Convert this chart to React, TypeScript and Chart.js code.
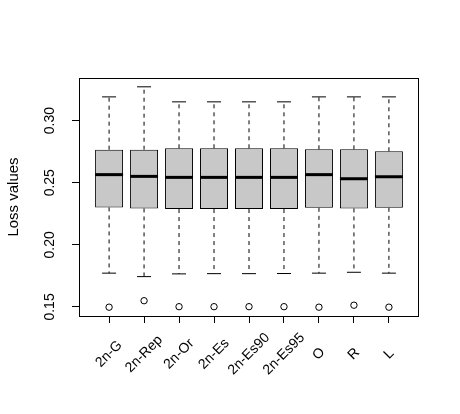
import React, { useEffect, useRef } from "react";
import { Chart, registerables } from "chart.js";

Chart.register(...registerables);

const categories = ["2n-G", "2n-Rep", "2n-Or", "2n-Es", "2n-Es90", "2n-Es95", "O", "R", "L"];
const lowerWhisker = [0.1772, 0.1744, 0.1766, 0.1768, 0.1768, 0.1769, 0.1772, 0.1779, 0.1772];
const q1 = [0.2301, 0.2293, 0.2288, 0.2288, 0.2288, 0.2288, 0.2298, 0.2293, 0.2298];
const medians = [0.2565, 0.2551, 0.2543, 0.2543, 0.2543, 0.2543, 0.2565, 0.2532, 0.2548];
const q3 = [0.2766, 0.2766, 0.2777, 0.2777, 0.2777, 0.2777, 0.2769, 0.2769, 0.2753];
const upperWhisker = [0.3191, 0.3272, 0.3151, 0.3151, 0.3151, 0.3151, 0.3191, 0.3191, 0.3191];
const outliers = [0.1498, 0.155, 0.1502, 0.1502, 0.1502, 0.1502, 0.1498, 0.1514, 0.1498];
const yTicks = [0.15, 0.2, 0.25, 0.3];
const yLabels = ["0.15", "0.20", "0.25", "0.30"];

const FONT = "'Liberation Sans', Arial, Helvetica, sans-serif";

const boxPlugin = {
  id: "boxExtras",
  afterDatasetsDraw(chart: any) {
    const { ctx, scales, chartArea } = chart;
    const xs = scales.x;
    const ys = scales.y;
    const boxMeta = chart.getDatasetMeta(0);
    ctx.save();
    categories.forEach((_, i) => {
      const bar = boxMeta.data[i];
      const x = xs.getPixelForValue(i + 1);
      const half = bar ? bar.width / 2 : 14;
      const capHalf = half / 2;
      const yq1 = ys.getPixelForValue(q1[i]);
      const yq3 = ys.getPixelForValue(q3[i]);
      const ylo = ys.getPixelForValue(lowerWhisker[i]);
      const yhi = ys.getPixelForValue(upperWhisker[i]);
      const ymed = ys.getPixelForValue(medians[i]);
      ctx.strokeStyle = "#000";
      ctx.lineWidth = 1;
      ctx.setLineDash([4, 4]);
      ctx.beginPath();
      ctx.moveTo(x, yq3);
      ctx.lineTo(x, yhi);
      ctx.moveTo(x, yq1);
      ctx.lineTo(x, ylo);
      ctx.stroke();
      ctx.setLineDash([]);
      ctx.beginPath();
      ctx.moveTo(x - capHalf, yhi);
      ctx.lineTo(x + capHalf, yhi);
      ctx.moveTo(x - capHalf, ylo);
      ctx.lineTo(x + capHalf, ylo);
      ctx.stroke();
      ctx.lineWidth = 3;
      ctx.beginPath();
      ctx.moveTo(x - half, ymed);
      ctx.lineTo(x + half, ymed);
      ctx.stroke();
    });
    // frame
    ctx.lineWidth = 1;
    ctx.strokeStyle = "#000";
    ctx.strokeRect(chartArea.left + 0.5, chartArea.top + 0.5, chartArea.right - chartArea.left - 1, chartArea.bottom - chartArea.top);
    ctx.fillStyle = "#000";
    ctx.font = `14px ${FONT}`;
    ctx.textAlign = "center";
    ctx.textBaseline = "middle";
    // y tick labels, rotated like R
    yTicks.forEach((v, i) => {
      const y = ys.getPixelForValue(v);
      ctx.save();
      ctx.translate(50, y);
      ctx.rotate(-Math.PI / 2);
      ctx.fillText(yLabels[i], 0, 0);
      ctx.restore();
    });
    // x tick labels, centred and rotated 45 degrees like R's text(srt=45)
    categories.forEach((label, i) => {
      const x = xs.getPixelForValue(i + 1);
      ctx.save();
      ctx.translate(x, chartArea.bottom + 38);
      ctx.rotate(-Math.PI / 4);
      ctx.fillText(label, 0, 0);
      ctx.restore();
    });
    ctx.restore();
  },
};

export default function App() {
  const ref = useRef<HTMLCanvasElement | null>(null);
  useEffect(() => {
    if (!ref.current) return;
    const chart = new Chart(ref.current, {
      type: "bar",
      data: {
        datasets: [
          {
            type: "bar",
            data: categories.map((_, i) => ({ x: i + 1, y: [q1[i], q3[i]] })) as any,
            backgroundColor: "#C8C8C8",
            borderColor: "#000",
            borderWidth: 1,
            borderSkipped: false,
            barPercentage: 0.8,
            categoryPercentage: 1,
          },
          {
            type: "scatter",
            data: categories.map((_, i) => ({ x: i + 1, y: outliers[i] })),
            pointStyle: "circle",
            pointRadius: 3.2,
            pointBackgroundColor: "#fff",
            pointBorderColor: "#000",
            pointBorderWidth: 1,
          } as any,
        ],
      },
      options: {
        animation: false,
        responsive: true,
        maintainAspectRatio: false,
        layout: { padding: { top: 78, right: 41, left: 0, bottom: 0 } },
        plugins: { legend: { display: false }, tooltip: { enabled: false } },
        scales: {
          x: {
            type: "linear",
            min: 0.14,
            max: 9.86,
            offset: false,
            afterBuildTicks: (s: any) => {
              s.ticks = categories.map((_, i) => ({ value: i + 1 }));
            },
            afterFit: (s: any) => {
              s.height = 98;
            },
            grid: { offset: false, drawOnChartArea: false, drawTicks: true, tickLength: 7, color: "#000" },
            border: { display: false },
            ticks: { display: false },
          },
          y: {
            type: "linear",
            min: 0.1427,
            max: 0.3343,
            afterBuildTicks: (s: any) => {
              s.ticks = yTicks.map((v) => ({ value: v }));
            },
            afterFit: (s: any) => {
              s.width = 79;
            },
            grid: { drawOnChartArea: false, drawTicks: true, tickLength: 7, color: "#000" },
            border: { display: false },
            ticks: { display: false },
            title: {
              display: true,
              text: "Loss values",
              color: "#000",
              font: { family: FONT, size: 15 },
              padding: { top: 5, bottom: 0 },
            },
          },
        },
      },
      plugins: [boxPlugin],
    } as any);
    return () => chart.destroy();
  }, []);
  return (
    <div style={{ position: "fixed", left: 0, top: 0, width: 460, height: 414, background: "#fff" }}>
      <canvas ref={ref} />
    </div>
  );
}
